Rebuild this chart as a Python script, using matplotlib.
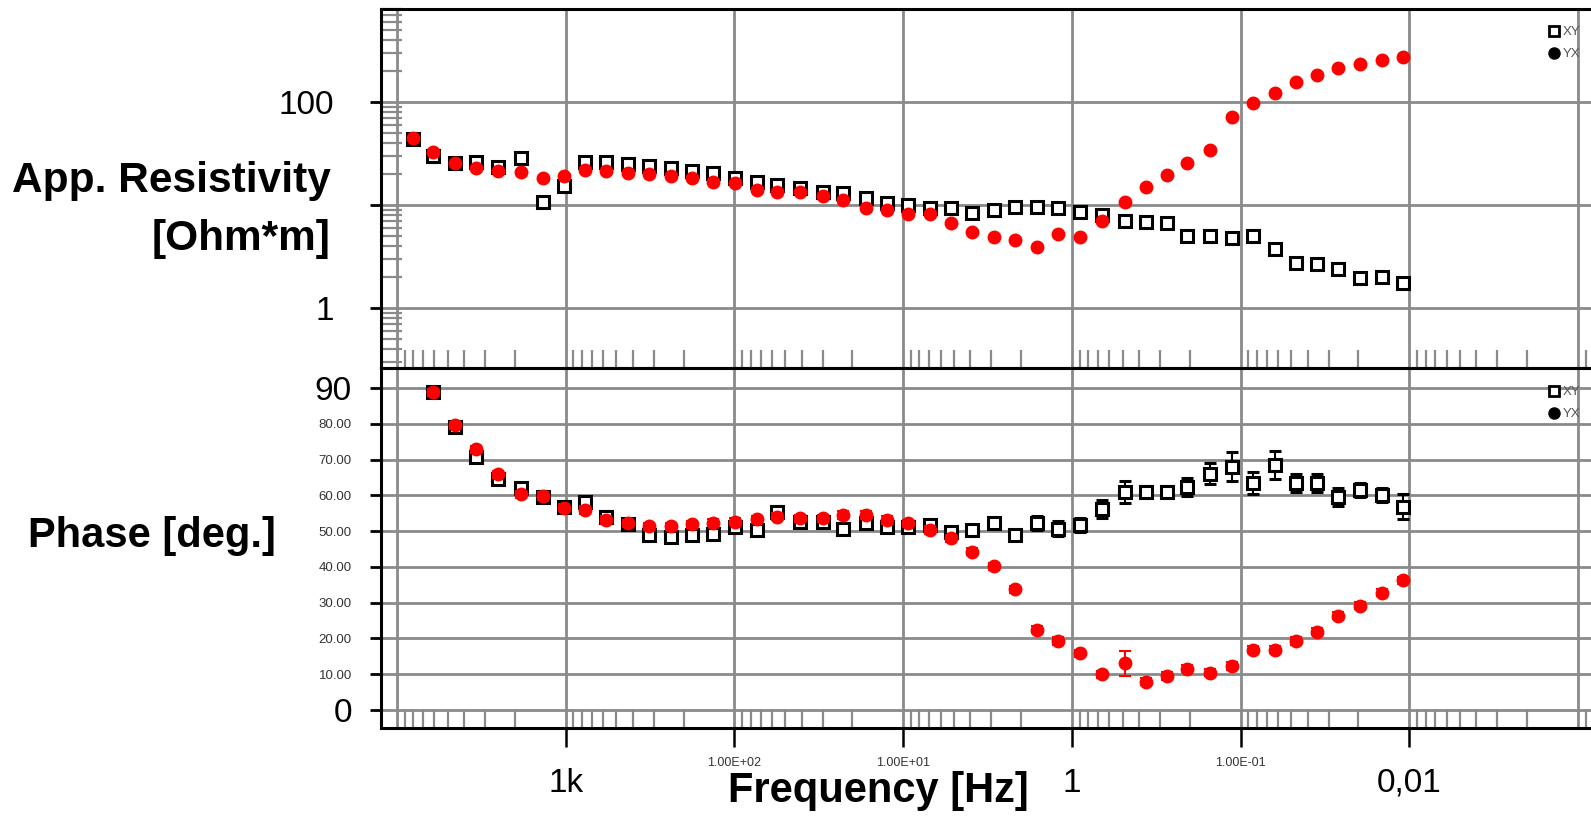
import numpy as np
import matplotlib.pyplot as plt
import matplotlib.transforms as mtrans
from matplotlib.lines import Line2D
from matplotlib.ticker import LogLocator, NullFormatter

plt.rcParams['font.family'] = ['Liberation Sans', 'DejaVu Sans']

# frequencies [Hz], high to low
freq = [8040, 6120, 4530, 3400, 2520, 1840, 1365, 1023, 769, 577, 428, 321, 238, 178, 134, 99,
        73.5, 55.9, 40.8, 29.8, 22.7, 16.6, 12.5, 9.35, 6.93, 5.20, 3.91, 2.89, 2.17, 1.61, 1.21,
        0.894, 0.662, 0.484, 0.363, 0.273, 0.208, 0.152, 0.112, 0.0843, 0.0625, 0.0469, 0.0352,
        0.0264, 0.0196, 0.0145, 0.0109]

rho_xy = [43.8, 29.9, 25.6, 26.1, 23.4, 28.6, 10.7, 15.3, 26.1, 26.1, 25.0, 23.9, 22.9, 21.4, 20.5,
          18.3, 16.7, 15.6, 14.6, 13.4, 13.1, 11.7, 10.4, 10.0, 9.35, 9.35, 8.36, 8.93, 9.57, 9.57,
          9.35, 8.55, 8.0, 7.0, 6.84, 6.68, 5.0, 5.0, 4.79, 5.0, 3.74, 2.74, 2.67, 2.39, 1.95, 2.0,
          1.75]
rho_yx = [44.7, 32.7, 25.6, 22.9, 21.4, 20.9, 18.3, 19.1, 21.9, 21.4, 20.5, 20.0, 19.1, 18.3, 16.7,
          16.4, 14.0, 13.4, 13.4, 12.2, 11.2, 9.35, 8.93, 8.18, 8.18, 6.68, 5.47, 4.89, 4.57, 3.91,
          5.22, 4.89, 7.0, 10.7, 15.0, 19.5, 25.6, 34.2, 71.4, 97.7, 122, 156, 183, 214, 234, 256,
          274]

phase_xy = [np.nan, 88.8, 79.2, 70.8, 64.5, 62.0, 59.6, 56.8, 58.2, 54.0, 52.0, 48.9, 48.4, 48.9,
            49.2, 51.2, 50.3, 55.4, 52.6, 52.6, 50.7, 52.2, 51.2, 51.2, 51.7, 49.8, 50.3, 52.2,
            48.9, 52.2, 50.7, 51.7, 56.3, 61.0, 61.0, 61.0, 62.4, 66.1, 68.0, 63.4, 68.5, 63.4,
            63.4, 59.6, 61.5, 60.1, 56.8]
phase_xy_err = [0, 1, 1, 1.5, 1, 1.5, 1.5, 1.5, 1.5, 1.5, 1, 1, 1, 1, 1, 1, 1, 1.5,
                1, 1, 1, 1, 1, 1, 1, 1, 1, 1.5, 1.5, 2, 2, 2, 2.5, 3, 1.5, 1.5, 2.5,
                3, 4, 3, 4, 2.5, 2.5, 2.5, 2, 2, 3.5]
phase_yx = [np.nan, 88.8, 79.6, 72.9, 65.9, 60.3, 59.8, 56.5, 55.9, 53.1, 52.2, 51.4, 51.4, 51.9,
            52.4, 52.6, 53.3, 54.0, 53.6, 53.6, 54.5, 54.5, 53.1, 52.2, 50.3, 48.0, 44.3, 40.2,
            33.7, 22.4, 19.3, 15.8, 10.0, 13.1, 7.9, 9.5, 11.6, 10.4, 12.3, 16.8, 16.8, 19.3,
            21.9, 26.3, 29.2, 32.8, 36.3]
phase_yx_err = [0, 1, 1, 1, 1, 1, 1, 1, 1, 1, 1, 1, 1, 1, 1, 1, 1, 1,
                1, 1, 1, 1, 1, 1, 1, 1, 1, 1, 1, 1, 1, 1, 1, 3.5, 1, 1, 1,
                1, 1, 1, 1, 1, 1, 1, 1, 1, 1]

decade_ticks = [1e3, 1e2, 1e1, 1, 1e-1, 1e-2]
big_xlabels = {1e3: '1k', 1: '1', 1e-2: '0,01'}
small_xlabels = {1e2: '1.00E+02', 1e1: '1.00E+01', 1e-1: '1.00E-01'}
phase_ticks = [0, 10, 20, 30, 40, 50, 60, 70, 80, 90]
phase_labels = ['0', '10.00', '20.00', '30.00', '40.00', '50.00', '60.00', '70.00', '80.00', '90']

W, H = 1591, 826


def fx(x):
    return x / W


def fy(y):
    return 1 - y / H


grid_c = '#8a8a8a'

fig = plt.figure(figsize=(W / 100, H / 100), dpi=100)
ax1 = fig.add_axes([fx(381), fy(368), (W - 381) / W, 359 / H])
ax2 = fig.add_axes([fx(381), fy(728), (W - 381) / W, 360 / H])

for ax in (ax1, ax2):
    ax.set_xscale('log')
    ax.set_xlim(12440, 8.37e-4)
    ax.set_xticks(decade_ticks)
    ax.set_xticklabels([])
    ax.xaxis.set_minor_locator(LogLocator(base=10, subs=np.arange(2, 10), numticks=30))
    ax.xaxis.set_minor_formatter(NullFormatter())
    ax.grid(True, which='major', color=grid_c, lw=2)
    for f in (1e4, 1e-3):
        ax.axvline(f, color=grid_c, lw=2, zorder=0.5)
    ax.set_axisbelow(True)
    ax.spines['right'].set_visible(False)
    for s in ('left', 'top', 'bottom'):
        ax.spines[s].set_linewidth(2.2)
    ax.tick_params(axis='x', which='minor', direction='in', length=13, width=1.6,
                   color=grid_c, bottom=True, top=False)
    ax.tick_params(axis='y', which='major', direction='out', length=8, width=2, color='black')

# resistivity panel
ax1.set_yscale('log')
ax1.set_ylim(0.261, 800)
ax1.set_yticks([1, 10, 100])
ax1.set_yticklabels(['1', '', '100'], fontsize=24)
ax1.tick_params(axis='y', which='major', pad=26)
ax1.yaxis.set_minor_locator(LogLocator(base=10, subs=np.arange(2, 10), numticks=30))
ax1.yaxis.set_minor_formatter(NullFormatter())
ax1.tick_params(axis='y', which='minor', direction='in', length=15, width=1.6, color=grid_c)
ax1.tick_params(axis='x', which='major', length=0)

ax1.plot(freq, rho_xy, ls='none', marker='s', ms=8, mfc='white', mec='black', mew=2.2, zorder=3)
ax1.plot(freq, rho_yx, ls='none', marker='o', ms=9, color='red', zorder=4)

# phase panel
ax2.set_ylim(-5.03, 95.6)
ax2.set_yticks(phase_ticks)
ax2.set_yticklabels(phase_labels)
ax2.tick_params(axis='y', which='major', pad=13)
for lab in ax2.get_yticklabels():
    if lab.get_text() in ('0', '90'):
        lab.set_fontsize(24)
    else:
        lab.set_fontsize(9.5)
        lab.set_color('#333333')
ax2.tick_params(axis='x', which='major', direction='out', length=14, width=1.8, color='black')

ax2.errorbar(freq, phase_xy, yerr=phase_xy_err, fmt='s', ms=8, mfc='white', mec='black', mew=2.2,
             ecolor='black', elinewidth=1.5, capsize=4, capthick=1.5, zorder=3)
ax2.errorbar(freq, phase_yx, yerr=phase_yx_err, fmt='o', ms=9, color='red', ecolor='red',
             elinewidth=1.5, capsize=4, capthick=1.5, zorder=4)

# x tick labels, mixed styles
trans = mtrans.blended_transform_factory(ax2.transData, fig.transFigure)
for f, t in big_xlabels.items():
    ax2.text(f, fy(783), t, transform=trans, ha='center', va='center', fontsize=24)
for f, t in small_xlabels.items():
    ax2.text(f, fy(763), t, transform=trans, ha='center', va='center', fontsize=9, color='#333333')

# legends
h_xy = Line2D([], [], ls='none', marker='s', ms=7, mfc='white', mec='black', mew=2)
h_yx = Line2D([], [], ls='none', marker='o', ms=8, color='black')
for ax, ytop in ((ax1, 26), (ax2, 386)):
    leg = ax.legend([h_xy, h_yx], ['XY', 'YX'], loc='upper left',
                    bbox_to_anchor=(fx(1550), fy(ytop)), bbox_transform=fig.transFigure,
                    frameon=False, fontsize=9.5, handlelength=0.6, handletextpad=0.4,
                    labelspacing=0.75, borderpad=0, borderaxespad=0)
    for t in leg.get_texts():
        t.set_color('#555555')

fig.text(fx(331), fy(192), 'App. Resistivity', ha='right', va='baseline', fontsize=30.5, fontweight='bold')
fig.text(fx(331), fy(250), '[Ohm*m]', ha='right', va='baseline', fontsize=30.5, fontweight='bold')
fig.text(fx(28), fy(547), 'Phase [deg.]', ha='left', va='baseline', fontsize=30, fontweight='bold')
fig.text(fx(878), fy(802), 'Frequency [Hz]', ha='center', va='baseline', fontsize=30, fontweight='bold')

fig.savefig('out.png', dpi=100)
